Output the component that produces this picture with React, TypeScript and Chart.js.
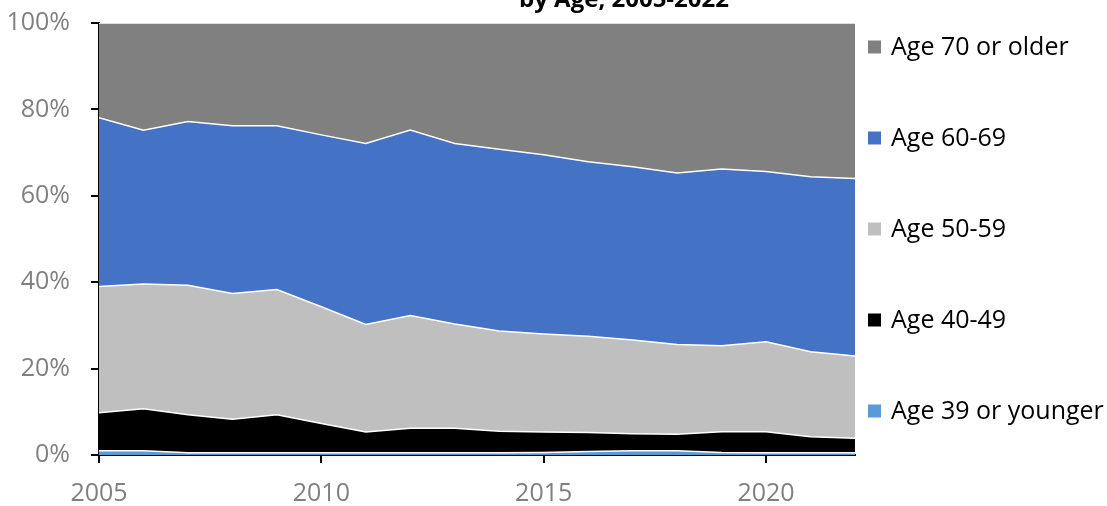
import React, { useEffect, useRef } from 'react';
import { Chart, registerables } from 'chart.js';

Chart.register(...registerables);

const YEARS = [2005, 2006, 2007, 2008, 2009, 2010, 2011, 2012, 2013, 2014, 2015, 2016, 2017, 2018, 2019, 2020, 2021, 2022];

const SERIES_NAMES = ['Age 39 or younger', 'Age 40-49', 'Age 50-59', 'Age 60-69', 'Age 70 or older'];

const AGE_39_OR_YOUNGER = [1.0, 1.0, 0.5, 0.5, 0.5, 0.5, 0.5, 0.5, 0.5, 0.5, 0.6, 0.8, 1.0, 1.0, 0.6, 0.5, 0.5, 0.5];
const AGE_40_49 = [8.8, 9.7, 8.8, 7.8, 8.8, 6.8, 4.8, 5.7, 5.7, 5.0, 4.7, 4.4, 3.9, 3.8, 4.8, 4.9, 3.7, 3.4];
const AGE_50_59 = [29.2, 28.9, 30.0, 29.1, 29.0, 27.0, 24.9, 26.1, 24.1, 23.2, 22.7, 22.3, 21.7, 20.8, 19.9, 20.8, 19.7, 19.0];
const AGE_60_69 = [39.1, 35.6, 37.9, 38.8, 37.9, 39.8, 41.9, 42.9, 41.8, 42.1, 41.5, 40.4, 40.1, 39.7, 40.9, 39.4, 40.5, 41.1];
const AGE_70_OR_OLDER = [21.9, 24.8, 22.8, 23.8, 23.8, 25.9, 27.9, 24.8, 27.9, 29.2, 30.5, 32.1, 33.3, 34.7, 33.8, 34.4, 35.6, 36.0];

const SERIES_VALUES = [AGE_39_OR_YOUNGER, AGE_40_49, AGE_50_59, AGE_60_69, AGE_70_OR_OLDER];
const SERIES_COLORS = ['#5B9BD5', '#000000', '#BFBFBF', '#4472C4', '#808080'];

const TITLE_TEXT = 'by Age, 2005-2022';

const FONT = '"Open Sans", "Noto Sans", sans-serif';

const partialTitlePlugin = {
  id: 'partialTitle',
  afterDraw(chart: any) {
    const { ctx } = chart;
    ctx.save();
    ctx.font = `bold 24px ${FONT}`;
    ctx.fillStyle = '#000000';
    ctx.textAlign = 'center';
    ctx.textBaseline = 'alphabetic';
    ctx.fillText(TITLE_TEXT, 624, 7);
    ctx.restore();
  },
};

const sideLegendPlugin = {
  id: 'sideLegend',
  afterDraw(chart: any) {
    const { ctx, chartArea } = chart;
    const datasets = chart.data.datasets;
    ctx.save();
    ctx.font = `25px ${FONT}`;
    ctx.textAlign = 'left';
    ctx.textBaseline = 'middle';
    const n = datasets.length;
    for (let i = 0; i < n; i++) {
      const ds = datasets[n - 1 - i];
      const cy = chartArea.top + 24 + i * 91;
      ctx.fillStyle = ds.backgroundColor;
      ctx.fillRect(chartArea.right + 13, cy - 6.5, 13, 13);
      ctx.fillStyle = '#000000';
      ctx.fillText(ds.label, chartArea.right + 36, cy + 1);
    }
    ctx.restore();
  },
};

export default function App() {
  const canvasRef = useRef<HTMLCanvasElement | null>(null);

  useEffect(() => {
    document.body.style.margin = '0';
    const canvas = canvasRef.current;
    if (!canvas) return;

    const datasets = SERIES_NAMES.map((name, i) => ({
      label: name,
      data: YEARS.map((y, j) => ({ x: y, y: SERIES_VALUES[i][j] })),
      backgroundColor: SERIES_COLORS[i],
      borderColor: '#ffffff',
      borderWidth: 1.5,
      pointRadius: 0,
      tension: 0,
      fill: i === 0 ? 'origin' : '-1',
    }));

    const chart = new Chart(canvas, {
      type: 'line',
      data: { datasets },
      options: {
        animation: false,
        responsive: false,
        maintainAspectRatio: false,
        layout: { padding: { top: 23, right: 252, left: 0, bottom: 0 } },
        plugins: {
          legend: { display: false },
          tooltip: { enabled: false },
          title: { display: false },
        },
        scales: {
          x: {
            type: 'linear',
            min: 2005,
            max: 2022,
            afterFit: (scale: any) => {
              scale.height = 51;
              scale.paddingLeft = 0;
              scale.paddingRight = 0;
            },
            grid: {
              display: true,
              drawOnChartArea: false,
              drawTicks: true,
              tickLength: 8,
              color: '#000000',
              lineWidth: 2,
            },
            border: { display: true, color: '#000000', width: 2 },
            ticks: {
              stepSize: 5,
              includeBounds: false,
              color: '#808080',
              font: { family: FONT, size: 25, lineHeight: 1.0 },
              padding: 18,
              maxRotation: 0,
              callback: (v: any) => String(v),
            },
          },
          y: {
            stacked: true,
            min: 0,
            max: 100,
            afterFit: (scale: any) => {
              scale.width = 99;
              scale.paddingTop = 0;
              scale.paddingBottom = 0;
            },
            grid: {
              display: true,
              drawOnChartArea: false,
              drawTicks: true,
              tickLength: 8,
              color: '#000000',
              lineWidth: 2,
            },
            border: { display: true, color: '#000000', width: 2 },
            ticks: {
              stepSize: 20,
              color: '#808080',
              font: { family: FONT, size: 25 },
              padding: 21,
              callback: (v: any) => `${v}%`,
            },
          },
        },
      },
      plugins: [partialTitlePlugin, sideLegendPlugin],
    });

    return () => chart.destroy();
  }, []);

  return (
    <div style={{ width: 1107, height: 506, overflow: 'hidden' }}>
      <canvas ref={canvasRef} width={1107} height={506} />
    </div>
  );
}
